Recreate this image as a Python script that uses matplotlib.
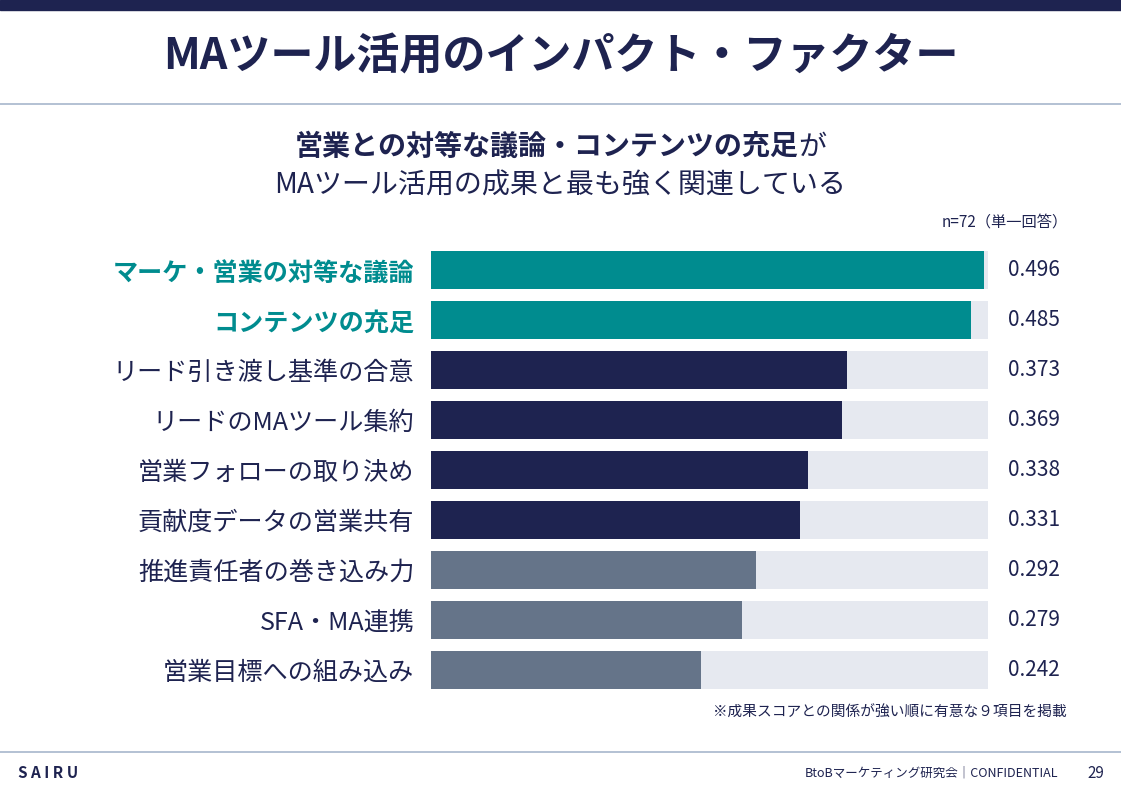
import matplotlib
matplotlib.use('Agg')
import matplotlib.pyplot as plt

plt.rcParams['font.family'] = ['Noto Sans CJK JP', 'DejaVu Sans']

# データ
items = ['マーケ・営業の対等な議論', 'コンテンツの充足', 'リード引き渡し基準の合意',
         'リードのMAツール集約', '営業フォローの取り決め', '貢献度データの営業共有',
         '推進責任者の巻き込み力', 'SFA・MA連携', '営業目標への組み込み']
scores = [0.496, 0.485, 0.373, 0.369, 0.338, 0.331, 0.292, 0.279, 0.242]
value_labels = ['0.496', '0.485', '0.373', '0.369', '0.338', '0.331', '0.292', '0.279', '0.242']

NAVY = '#1e2350'
TEAL = '#008c8f'
SLATE = '#657489'
TRACK = '#e6e9f0'
RULE = '#a7b6cc'

W, H = 1121, 793
fig = plt.figure(figsize=(W / 100, H / 100), dpi=100)
fig.patch.set_facecolor('white')


def fx(x):
    return x / W


def fy(y):
    return 1 - y / H


# 上部の帯と区切り線
fig.add_artist(plt.Rectangle((0, fy(10)), 1, 10 / H, color=NAVY, transform=fig.transFigure))
fig.add_artist(plt.Line2D([0, 1], [fy(104), fy(104)], color=RULE, lw=1.2, transform=fig.transFigure))
fig.add_artist(plt.Line2D([0, 1], [fy(752), fy(752)], color=RULE, lw=1.2, transform=fig.transFigure))

fig.text(0.5, fy(57), 'MAツール活用のインパクト・ファクター', ha='center', va='center',
         fontsize=31, fontweight='bold', color=NAVY)

# サブタイトル（一部太字）
renderer = fig.canvas.get_renderer()
t1 = fig.text(0, fy(147), '営業との対等な議論・コンテンツの充足', ha='left', va='center',
              fontsize=20.2, fontweight='bold', color=NAVY)
t2 = fig.text(0, fy(147), 'が', ha='left', va='center', fontsize=20.2, color=NAVY)
w1 = t1.get_window_extent(renderer).width
w2 = t2.get_window_extent(renderer).width
x0 = (W - (w1 + w2)) / 2
t1.set_x(fx(x0))
t2.set_x(fx(x0 + w1))
fig.text(0.5, fy(186), 'MAツール活用の成果と最も強く関連している', ha='center', va='center',
         fontsize=20.2, color=NAVY)

fig.text(fx(1068), fy(222), 'n=72（単一回答）', ha='right', va='center', fontsize=11, color=NAVY)

# 棒グラフ
ax = fig.add_axes([fx(431), fy(695), fx(557), 450 / H])
n = len(items)
ypos = list(range(n))
colors = [TEAL if i < 2 else NAVY if i < 6 else SLATE for i in range(n)]
ax.barh(ypos, [0.5] * n, height=0.76, color=TRACK)
ax.barh(ypos, scores, height=0.76, color=colors)
ax.set_xlim(0, 0.5)
ax.set_ylim(n - 0.5, -0.5)
ax.set_yticks(ypos)
ax.set_yticklabels(items, fontsize=18.1)
for lbl, c in zip(ax.get_yticklabels(), colors):
    if c == TEAL:
        lbl.set_color(TEAL)
        lbl.set_fontweight('bold')
    else:
        lbl.set_color(NAVY)
ax.tick_params(axis='y', length=0, pad=12)
ax.set_xticks([])
for s in ax.spines.values():
    s.set_visible(False)

for y, txt in zip(ypos, value_labels):
    ax.annotate(txt, xy=(1, y), xycoords=('axes fraction', 'data'), xytext=(14.5, 0),
                textcoords='offset points', ha='left', va='center', fontsize=15, color=NAVY)

fig.text(fx(1067), fy(713), '※成果スコアとの関係が強い順に有意な９項目を掲載', ha='right', va='center',
         fontsize=10.6, color=NAVY)

# フッター
fig.text(fx(18), fy(773), 'S A I R U', ha='left', va='center', fontsize=11,
         fontweight='bold', color=NAVY)
fig.text(fx(1058), fy(773), 'BtoBマーケティング研究会｜CONFIDENTIAL', ha='right', va='center',
         fontsize=9, color=NAVY)
fig.text(fx(1104), fy(773), '29', ha='right', va='center', fontsize=11, color=NAVY)

fig.savefig('out.png', dpi=100)
